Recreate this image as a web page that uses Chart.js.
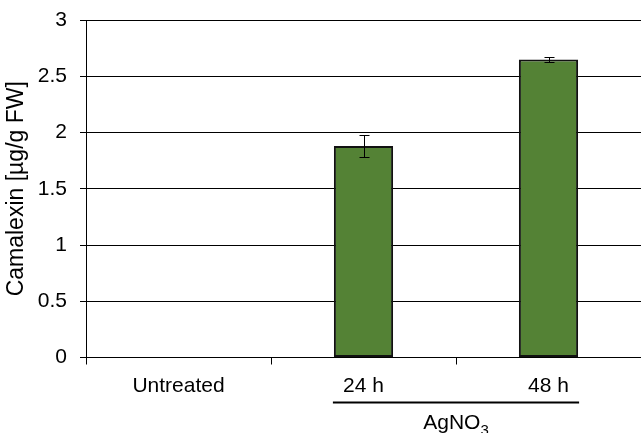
<!DOCTYPE html>
<html>
<head>
<meta charset="utf-8">
<script src="https://cdn.jsdelivr.net/npm/chart.js@4/dist/chart.umd.min.js"></script>
<style>
html,body{margin:0;padding:0;background:#fff;}
#wrap{width:641px;height:433px;position:relative;}
</style>
</head>
<body>
<div id="wrap"><canvas id="c" width="641" height="433"></canvas></div>
<script>
const categories = ["Untreated", "24 h", "48 h"];
const camalexin = [null, 1.88, 2.65];
const errors = [null, 0.10, 0.025];
const yTicks = [0, 0.5, 1, 1.5, 2, 2.5, 3];
const yTickLabels = ["0", "0.5", "1", "1.5", "2", "2.5", "3"];
const yTitle = "Camalexin [µg/g FW]";
const groupLabel = "AgNO";
const groupSub = "3";
const groupMembers = [1, 2];

const FONT = "'Liberation Sans', Arial, sans-serif";
const FS = 21;

const errorBars = {
  id: 'errorBars',
  afterDatasetsDraw(chart) {
    const ctx = chart.ctx;
    const y = chart.scales.y;
    const meta = chart.getDatasetMeta(0);
    ctx.save();
    ctx.strokeStyle = '#000';
    ctx.lineWidth = 1;
    meta.data.forEach((bar, i) => {
      const v = camalexin[i], e = errors[i];
      if (v == null || e == null) return;
      const x = Math.round(bar.x) + 0.5;
      const yt = Math.round(y.getPixelForValue(v + e)) + 0.5;
      const yb = Math.round(y.getPixelForValue(v - e)) + 0.5;
      ctx.beginPath();
      ctx.moveTo(x, yt); ctx.lineTo(x, yb);
      ctx.moveTo(x - 5, yt); ctx.lineTo(x + 5, yt);
      ctx.moveTo(x - 5, yb); ctx.lineTo(x + 5, yb);
      ctx.stroke();
    });
    ctx.restore();
  },
  afterDraw(chart) {
    const ctx = chart.ctx;
    const meta = chart.getDatasetMeta(0);
    const a = meta.data[groupMembers[0]], b = meta.data[groupMembers[groupMembers.length - 1]];
    const x0 = a.x - a.width / 2 - 1, x1 = b.x + b.width / 2 + 1;
    const lineY = chart.chartArea.bottom + 45;
    ctx.save();
    ctx.strokeStyle = '#000';
    ctx.lineWidth = 2;
    ctx.beginPath();
    ctx.moveTo(x0, lineY); ctx.lineTo(x1, lineY);
    ctx.stroke();
    ctx.fillStyle = '#000';
    ctx.textBaseline = 'middle';
    ctx.font = FS + 'px ' + FONT;
    const w1 = ctx.measureText(groupLabel).width;
    ctx.font = '15px ' + FONT;
    const w2 = ctx.measureText(groupSub).width;
    const cx = chart.scales.x.getPixelForValue(1.5);
    const sx = cx - (w1 + w2) / 2;
    const ty = lineY + 21;
    ctx.font = FS + 'px ' + FONT;
    ctx.textAlign = 'left';
    ctx.fillText(groupLabel, sx, ty);
    ctx.font = '15px ' + FONT;
    ctx.fillText(groupSub, sx + w1, ty + 7);
    ctx.restore();
  }
};

new Chart(document.getElementById('c'), {
  type: 'bar',
  data: {
    labels: categories,
    datasets: [{
      data: camalexin,
      backgroundColor: '#548235',
      borderColor: '#111',
      borderWidth: 2,
      borderSkipped: false,
      categoryPercentage: 1,
      barPercentage: 0.32
    }]
  },
  options: {
    responsive: false,
    animation: false,
    devicePixelRatio: 1,
    layout: { padding: { top: 20, left: 0, right: 0, bottom: 0 } },
    plugins: { legend: { display: false }, tooltip: { enabled: false } },
    scales: {
      x: {
        offset: true,
        grid: { offset: true, drawOnChartArea: false, drawTicks: true, tickLength: 7, color: '#000', lineWidth: 1 },
        border: { color: '#000', width: 1 },
        ticks: { color: '#000', font: { family: FONT, size: FS }, padding: 9, maxRotation: 0 },
        afterFit(s) { s.height = 75.5; s.paddingLeft = 0; s.paddingRight = 0; }
      },
      y: {
        min: 0, max: 3,
        afterBuildTicks(s) { s.ticks = yTicks.map(v => ({ value: v })); },
        grid: { color: '#000', lineWidth: 1, tickLength: 6 },
        border: { color: '#000', width: 1 },
        ticks: { color: '#000', font: { family: FONT, size: FS }, padding: 13,
                 callback: (v, i) => yTickLabels[i] },
        title: { display: true, text: yTitle, color: '#000', font: { family: FONT, size: 23 }, padding: { top: 3, bottom: 0 } },
        afterFit(s) { s.width = 86; s.paddingTop = 0; s.paddingBottom = 0; }
      }
    }
  },
  plugins: [errorBars]
});
</script>
</body>
</html>
